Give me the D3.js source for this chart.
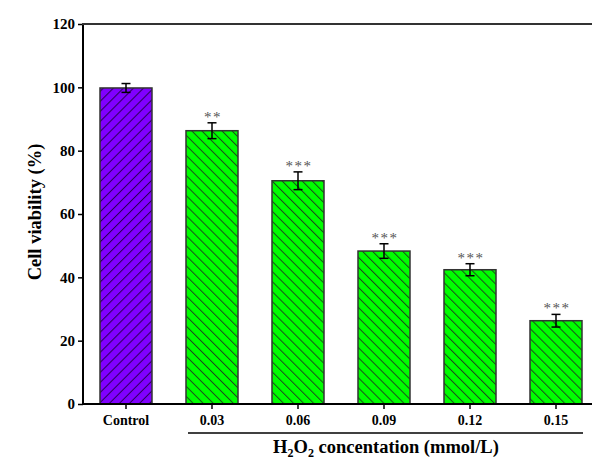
<!DOCTYPE html>
<html>
<head>
<meta charset="utf-8">
<script src="https://cdn.jsdelivr.net/npm/d3@7"></script>
<style>
  html, body { margin: 0; padding: 0; background: #ffffff; }
  svg { display: block; }
  svg text { font-family: "Liberation Serif", "DejaVu Serif", serif; }
</style>
</head>
<body>
<svg id="chart" width="592" height="463"></svg>
<script>
const categories = ["Control", "0.03", "0.06", "0.09", "0.12", "0.15"];
const values = [99.8, 86.3, 70.5, 48.3, 42.4, 26.3];
const errors = [1.4, 2.5, 2.8, 2.3, 1.9, 2.0];
const significance = ["", "**", "***", "***", "***", "***"];
const yTicks = [0, 20, 40, 60, 80, 100, 120];
const barColors = ["#8000ff", "#00ff00", "#00ff00", "#00ff00", "#00ff00", "#00ff00"];
const yTitle = "Cell viability (%)";

const svg = d3.select("#chart");
const font = "Liberation Serif, DejaVu Serif, serif";
const mLeft = 83, mTop = 24, mBottom = 404, rightEdge = 592;

const x = d3.scaleBand().domain(categories).range([mLeft, mLeft + 6 * 86])
  .paddingInner(0.3953).paddingOuter(0.3953 / 2);
const y = d3.scaleLinear().domain([0, 120]).range([mBottom, mTop]);

// hatch patterns
const defs = svg.append("defs");
function hatch(id, color, angle, lineColor) {
  const s = 7.1;
  const p = defs.append("pattern").attr("id", id).attr("patternUnits", "userSpaceOnUse")
    .attr("width", s).attr("height", s).attr("patternTransform", `rotate(${angle})`);
  p.append("rect").attr("width", s).attr("height", s).attr("fill", color);
  p.append("line").attr("x1", 0.5).attr("y1", 0).attr("x2", 0.5).attr("y2", s)
    .attr("stroke", lineColor).attr("stroke-width", 1);
}
hatch("hatchPurple", barColors[0], 45, "#2a0055");
hatch("hatchGreen", barColors[1], -45, "#1e4a1e");

// bars
svg.append("g").selectAll("rect").data(categories).join("rect")
  .attr("x", d => x(d))
  .attr("y", (d, i) => y(values[i]))
  .attr("width", x.bandwidth())
  .attr("height", (d, i) => y(0) - y(values[i]))
  .attr("fill", (d, i) => i === 0 ? "url(#hatchPurple)" : "url(#hatchGreen)")
  .attr("stroke", "#333")
  .attr("stroke-width", 1.5);

// error bars
const eb = svg.append("g").attr("stroke", "#000").attr("stroke-width", 1.5);
categories.forEach((c, i) => {
  const cx = x(c) + x.bandwidth() / 2;
  const hi = y(values[i] + errors[i]), lo = y(values[i] - errors[i]);
  eb.append("line").attr("x1", cx).attr("x2", cx).attr("y1", hi).attr("y2", lo);
  eb.append("line").attr("x1", cx - 4.5).attr("x2", cx + 4.5).attr("y1", hi).attr("y2", hi);
  eb.append("line").attr("x1", cx - 4.5).attr("x2", cx + 4.5).attr("y1", lo).attr("y2", lo);
});

// significance stars
svg.append("g").selectAll("text").data(categories).join("text")
  .attr("x", d => x(d) + x.bandwidth() / 2 + 1)
  .attr("y", (d, i) => y(values[i] + errors[i]) - 1)
  .attr("text-anchor", "middle")
  .attr("font-family", font)
  .attr("font-size", 15)
  .attr("letter-spacing", 1.5)
  .attr("fill", "#555")
  .text((d, i) => significance[i]);

// y axis
const yAxis = svg.append("g").attr("transform", `translate(${mLeft},0)`)
  .call(d3.axisLeft(y).tickValues(yTicks).tickSize(5).tickPadding(3));
yAxis.select(".domain").remove();
yAxis.selectAll("line").attr("stroke", "#000").attr("stroke-width", 1.5);
yAxis.selectAll("text").attr("font-family", font).attr("font-size", 15)
  .attr("font-weight", "bold").attr("fill", "#000");

// x axis
const xAxis = svg.append("g").attr("transform", `translate(0,${mBottom})`)
  .call(d3.axisBottom(x).tickSize(5).tickPadding(6));
xAxis.select(".domain").remove();
xAxis.selectAll("line").attr("stroke", "#000").attr("stroke-width", 1.5);
xAxis.selectAll("text").attr("font-family", font).attr("font-size", 14)
  .attr("font-weight", "bold").attr("fill", "#000");

// frame lines
svg.append("line").attr("x1", mLeft).attr("x2", mLeft).attr("y1", mTop).attr("y2", mBottom)
  .attr("stroke", "#000").attr("stroke-width", 2);
svg.append("line").attr("x1", mLeft - 1).attr("x2", rightEdge).attr("y1", mBottom).attr("y2", mBottom)
  .attr("stroke", "#000").attr("stroke-width", 2);
svg.append("line").attr("x1", mLeft - 1).attr("x2", rightEdge).attr("y1", mTop).attr("y2", mTop)
  .attr("stroke", "#333").attr("stroke-width", 2);

// group underline
svg.append("line").attr("x1", 188).attr("x2", 583).attr("y1", 433).attr("y2", 433)
  .attr("stroke", "#000").attr("stroke-width", 1.5);

// x title
const xt = svg.append("text").attr("x", 386).attr("y", 453).attr("text-anchor", "middle")
  .attr("font-family", font).attr("font-size", 18.5).attr("font-weight", "bold").attr("fill", "#000");
xt.append("tspan").text("H");
xt.append("tspan").attr("font-size", 12).attr("dy", 4).text("2");
xt.append("tspan").attr("dy", -4).text("O");
xt.append("tspan").attr("font-size", 12).attr("dy", 4).text("2");
xt.append("tspan").attr("dy", -4).text(" concentation (mmol/L)");

// y title
svg.append("text").attr("transform", "translate(41,212) rotate(-90)")
  .attr("text-anchor", "middle").attr("font-family", font).attr("font-size", 18.5)
  .attr("font-weight", "bold").attr("fill", "#000").text(yTitle);
</script>
</body>
</html>
